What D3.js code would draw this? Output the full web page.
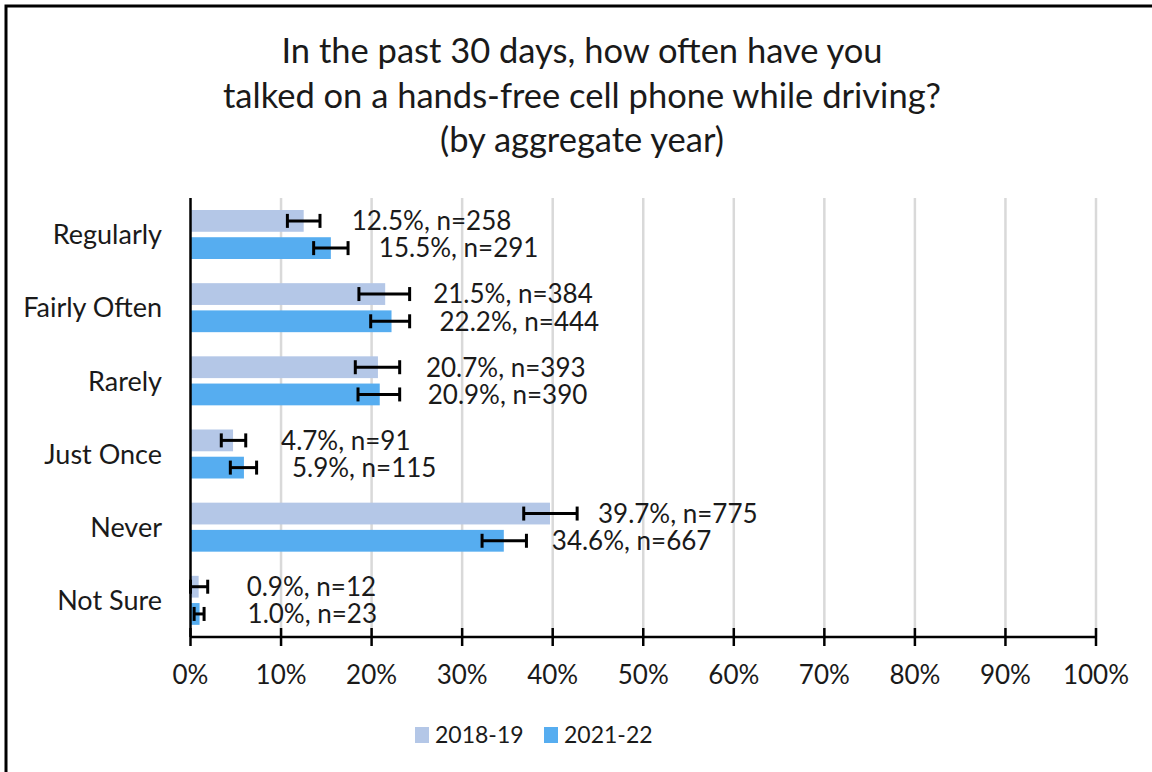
<!DOCTYPE html>
<html>
<head>
<meta charset="utf-8">
<script src="https://cdn.jsdelivr.net/npm/d3@7"></script>
<style>
  body { margin: 0; background: #fff; }
  svg text { font-family: Lato, "Open Sans", sans-serif; fill: #1a1a1a; }
</style>
</head>
<body>
<svg id="chart" width="1152" height="772"></svg>
<script>
const categories = ["Regularly", "Fairly Often", "Rarely", "Just Once", "Never", "Not Sure"]
const seriesNames = ["2018-19", "2021-22"]

// percent values
const values1819 = [12.5, 21.5, 20.7, 4.7, 39.7, 0.9]
const values2122 = [15.5, 22.2, 20.9, 5.9, 34.6, 1.0]
// sample sizes
const n1819 = [258, 384, 393, 91, 775, 12]
const n2122 = [291, 444, 390, 115, 667, 23]
// error bar bounds
const low1819 = [10.7, 18.6, 18.2, 3.4, 36.8, 0.0]
const high1819 = [14.3, 24.2, 23.1, 6.1, 42.7, 1.9]
const low2122 = [13.6, 19.9, 18.5, 4.4, 32.2, 0.4]
const high2122 = [17.4, 24.2, 23.1, 7.3, 37.1, 1.5]

const xTicks = [0, 10, 20, 30, 40, 50, 60, 70, 80, 90, 100]
const titleLines = [
  "In the past 30 days, how often have you",
  "talked on a hands-free cell phone while driving?",
  "(by aggregate year)"
]
const colors = {"2018-19": "#B4C7E7", "2021-22": "#56ADF0"}

const rows = []
categories.forEach((c, i) => {
  rows.push({cat: c, series: "2018-19", v: values1819[i], n: n1819[i], lo: low1819[i], hi: high1819[i]})
  rows.push({cat: c, series: "2021-22", v: values2122[i], n: n2122[i], lo: low2122[i], hi: high2122[i]})
})

const svg = d3.select("#chart")

// frame (only left and top edges fall inside the picture)
svg.append("path")
  .attr("d", "M6,772 V6 H1152")
  .attr("fill", "none")
  .attr("stroke", "#000")
  .attr("stroke-width", 3)

// title
svg.append("g").selectAll("text")
  .data(titleLines)
  .join("text")
  .attr("x", 582)
  .attr("y", (d, i) => 63 + i * 44.5)
  .attr("text-anchor", "middle")
  .style("font-size", "34.5px")
  .text(d => d)

const x = d3.scaleLinear().domain([0, 100]).range([190.5, 1096])
const y = d3.scaleBand().domain(categories).range([198, 637])
const ySub = d3.scaleBand().domain(seriesNames).range([12, 61]).paddingInner(0.2)

// gridlines
svg.append("g").selectAll("line")
  .data(xTicks.filter(d => d > 0))
  .join("line")
  .attr("x1", d => x(d)).attr("x2", d => x(d))
  .attr("y1", 198).attr("y2", 637)
  .attr("stroke", "#D9D9D9")
  .attr("stroke-width", 2.5)

// bars
svg.append("g").selectAll("rect")
  .data(rows)
  .join("rect")
  .attr("x", x(0))
  .attr("y", d => y(d.cat) + ySub(d.series))
  .attr("width", d => x(d.v) - x(0))
  .attr("height", ySub.bandwidth())
  .attr("fill", d => colors[d.series])

// error bars
const err = svg.append("g")
  .attr("stroke", "#000")
  .attr("stroke-width", 3)
const capH = 7
rows.forEach(d => {
  const cy = y(d.cat) + ySub(d.series) + ySub.bandwidth() / 2
  err.append("line").attr("x1", x(d.lo)).attr("x2", x(d.hi)).attr("y1", cy).attr("y2", cy)
  err.append("line").attr("x1", x(d.lo)).attr("x2", x(d.lo)).attr("y1", cy - capH).attr("y2", cy + capH)
  err.append("line").attr("x1", x(d.hi)).attr("x2", x(d.hi)).attr("y1", cy - capH).attr("y2", cy + capH)
})

// value labels
svg.append("g").selectAll("text")
  .data(rows)
  .join("text")
  .attr("x", d => x(d.v) + 48)
  .attr("y", d => y(d.cat) + ySub(d.series) + ySub.bandwidth() / 2)
  .attr("dy", "0.36em")
  .style("font-size", "26px")
  .text(d => `${d.v.toFixed(1)}%, n=${d.n}`)

// category labels
svg.append("g").selectAll("text")
  .data(categories)
  .join("text")
  .attr("x", 162)
  .attr("y", d => y(d) + y.bandwidth() / 2)
  .attr("dy", "0.36em")
  .attr("text-anchor", "end")
  .style("font-size", "27px")
  .text(d => d)

// axes lines
svg.append("line")
  .attr("x1", x(0)).attr("x2", x(0)).attr("y1", 198).attr("y2", 637)
  .attr("stroke", "#000").attr("stroke-width", 2.5)

const xAxis = svg.append("g")
xAxis.append("line")
  .attr("x1", x(0)).attr("x2", x(100)).attr("y1", 637).attr("y2", 637)
  .attr("stroke", "#000").attr("stroke-width", 2.5)
xAxis.selectAll("line.tick")
  .data(xTicks)
  .join("line")
  .attr("class", "tick")
  .attr("x1", d => x(d)).attr("x2", d => x(d))
  .attr("y1", 628).attr("y2", 646)
  .attr("stroke", "#000").attr("stroke-width", 2.5)
xAxis.selectAll("text")
  .data(xTicks)
  .join("text")
  .attr("x", d => x(d))
  .attr("y", 675)
  .attr("dy", "0.36em")
  .attr("text-anchor", "middle")
  .style("font-size", "26px")
  .text(d => d + "%")

// legend
const legendX = [415, 544]
const legend = svg.append("g").selectAll("g")
  .data(seriesNames)
  .join("g")
  .attr("transform", (d, i) => `translate(${legendX[i]},735)`)
legend.append("rect")
  .attr("x", 0).attr("y", -8).attr("width", 14).attr("height", 16)
  .attr("fill", d => colors[d])
legend.append("text")
  .attr("x", 20)
  .attr("dy", "0.36em")
  .style("font-size", "23px")
  .text(d => d)
</script>
</body>
</html>
